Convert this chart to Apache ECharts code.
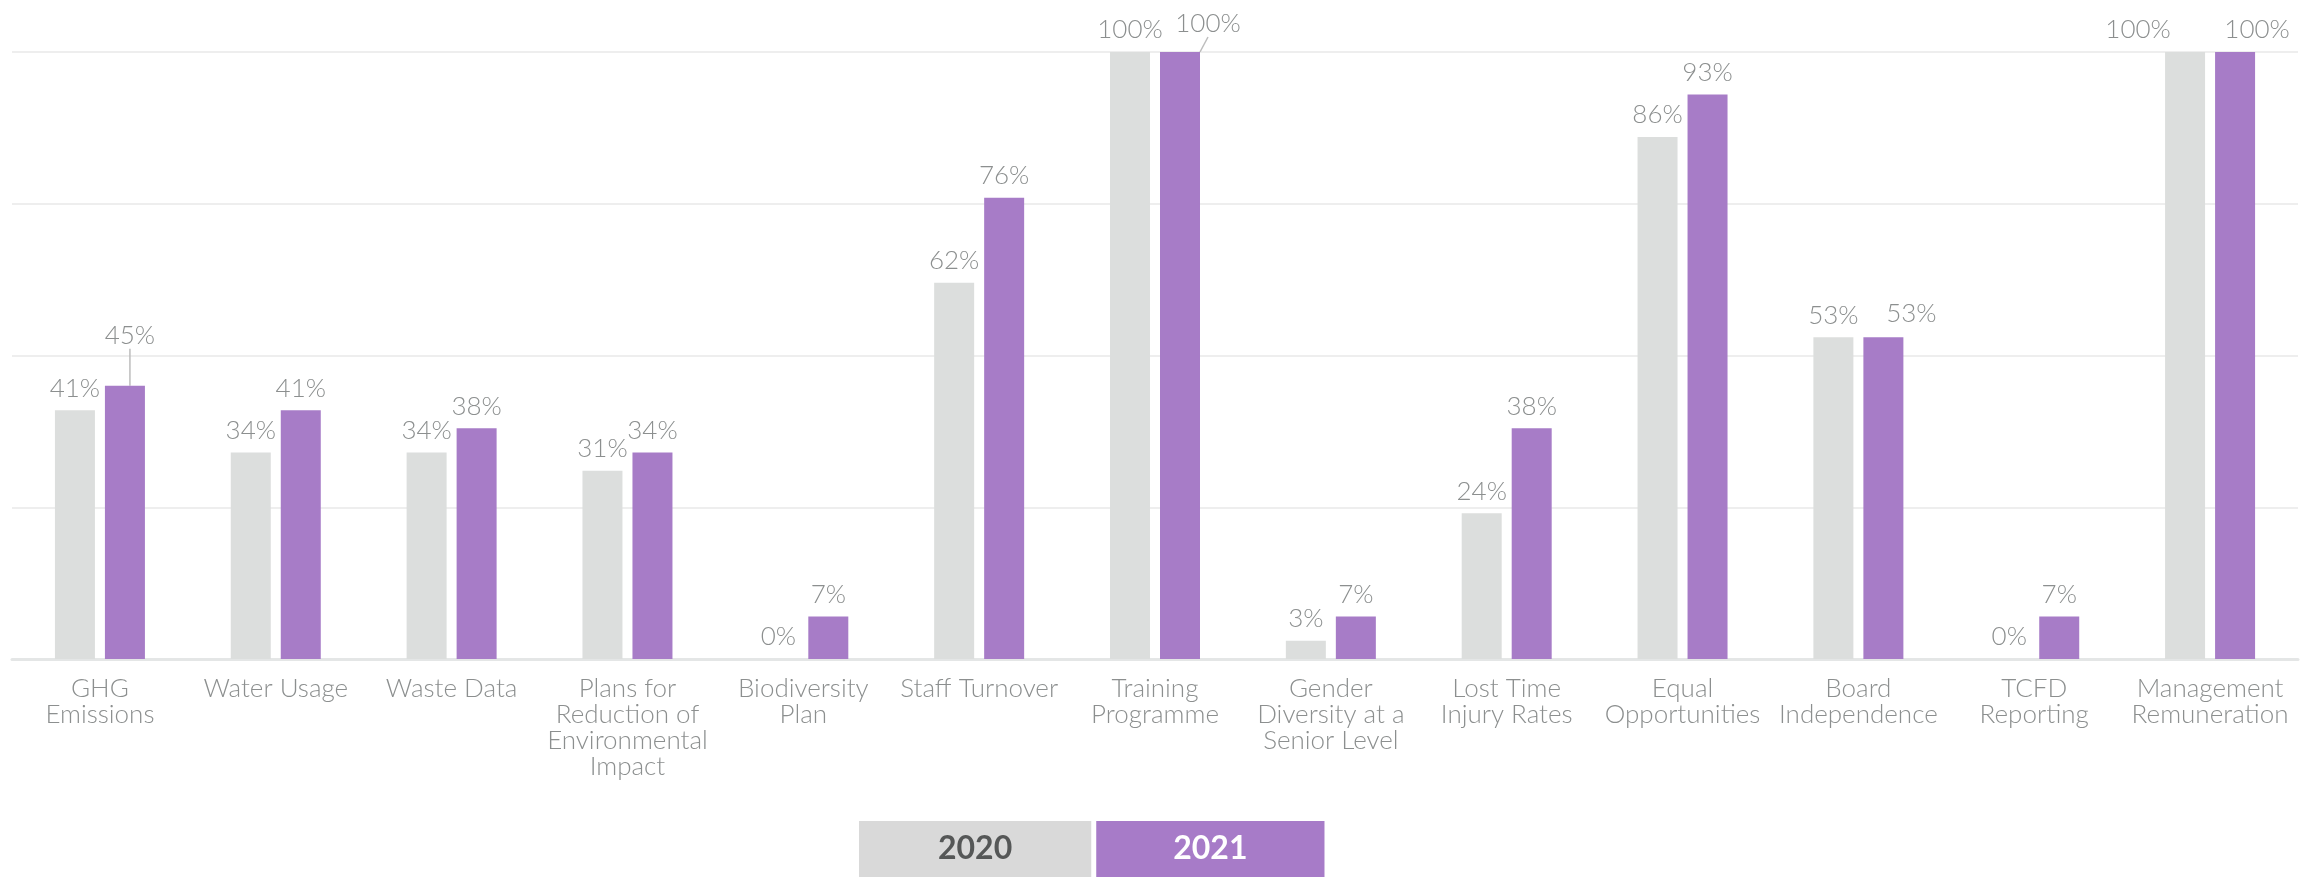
<!DOCTYPE html>
<html>
<head>
<meta charset="utf-8">
<script src="https://cdn.jsdelivr.net/npm/echarts@6/dist/echarts.min.js"></script>
<style>html,body{margin:0;padding:0;background:#fff}#chart{width:2318px;height:877px}</style>
</head>
<body>
<div id="chart"></div>
<script>
const categories = [
  'GHG\nEmissions', 'Water Usage', 'Waste Data', 'Plans for\nReduction of\nEnvironmental\nImpact',
  'Biodiversity\nPlan', 'Staff Turnover', 'Training\nProgramme', 'Gender\nDiversity at a\nSenior Level',
  'Lost Time\nInjury Rates', 'Equal\nOpportunities', 'Board\nIndependence', 'TCFD\nReporting',
  'Management\nRemuneration'
];
const seriesNames = ['2020', '2021'];
const values2020 = [41, 34, 34, 31, 0, 62, 100, 3, 24, 86, 53, 0, 100];
const values2021 = [45, 41, 38, 34, 7, 76, 100, 7, 38, 93, 53, 7, 100];
const yTicks = [0, 25, 50, 75, 100];

// label adjustments (layout only)
const labelShift = {
  '0-12': [-47, 0],
  '1-0': [5, -28],
  '1-6': [28, -6],
  '1-10': [28, -2],
  '1-12': [22, 0]
};
const leaderLines = {'1-0': true, '1-6': true};

const FONT = 'Lato';
const LABEL_COLOR = '#8c8f8f';

function mkData(vals, s) {
  return vals.map((v, i) => ({
    value: v,
    labelLine: {show: !!leaderLines[s + '-' + i], lineStyle: {color: '#bdbdbd', width: 1.5}}
  }));
}

const chart = echarts.init(document.getElementById('chart'), null, {renderer: 'canvas'});
chart.setOption({
  animation: false,
  grid: {left: 12, right: 20, top: 52, bottom: 218, containLabel: false},
  legend: {
    top: 816, left: 849, itemGap: 0, itemWidth: 0, itemHeight: 0, icon: 'rect',
    selectedMode: false,
    data: [
      {name: '2020', textStyle: {color: '#555757', backgroundColor: '#d9d9d9'}},
      {name: '2021', textStyle: {color: '#ffffff', backgroundColor: '#a77bc8', padding: [12, 77, 12, 77]}}
    ],
    textStyle: {fontFamily: FONT, fontWeight: 'bold', fontSize: 32, padding: [12, 79, 12, 79], lineHeight: 32}
  },
  xAxis: {
    type: 'category', data: categories,
    axisLine: {lineStyle: {color: '#e4e6e6', width: 3}},
    axisTick: {show: false},
    axisLabel: {interval: 0, color: LABEL_COLOR, fontFamily: FONT, fontWeight: 300, fontSize: 26, lineHeight: 26, margin: 17}
  },
  yAxis: {
    type: 'value', min: yTicks[0], max: yTicks[yTicks.length - 1], interval: 25,
    axisLabel: {show: false}, axisLine: {show: false}, axisTick: {show: false},
    splitLine: {lineStyle: {color: '#eeeeee', width: 2}}
  },
  series: [
    {
      name: seriesNames[0], type: 'bar', data: mkData(values2020, 0), barWidth: 40, barGap: '25%',
      itemStyle: {color: '#dcdedd'},
      label: {show: true, position: 'top', distance: 9, formatter: '{c}%', color: LABEL_COLOR, fontFamily: FONT, fontWeight: 300, fontSize: 26}
    },
    {
      name: seriesNames[1], type: 'bar', data: mkData(values2021, 1), barWidth: 40, barGap: '25%',
      itemStyle: {color: '#a77cc7'},
      label: {show: true, position: 'top', distance: 9, formatter: '{c}%', color: LABEL_COLOR, fontFamily: FONT, fontWeight: 300, fontSize: 26}
    }
  ],
  labelLayout: function (p) {
    const k = p.seriesIndex + '-' + p.dataIndex;
    if (labelShift[k]) return {dx: labelShift[k][0], dy: labelShift[k][1]};
    return {};
  }
});
</script>
</body>
</html>
